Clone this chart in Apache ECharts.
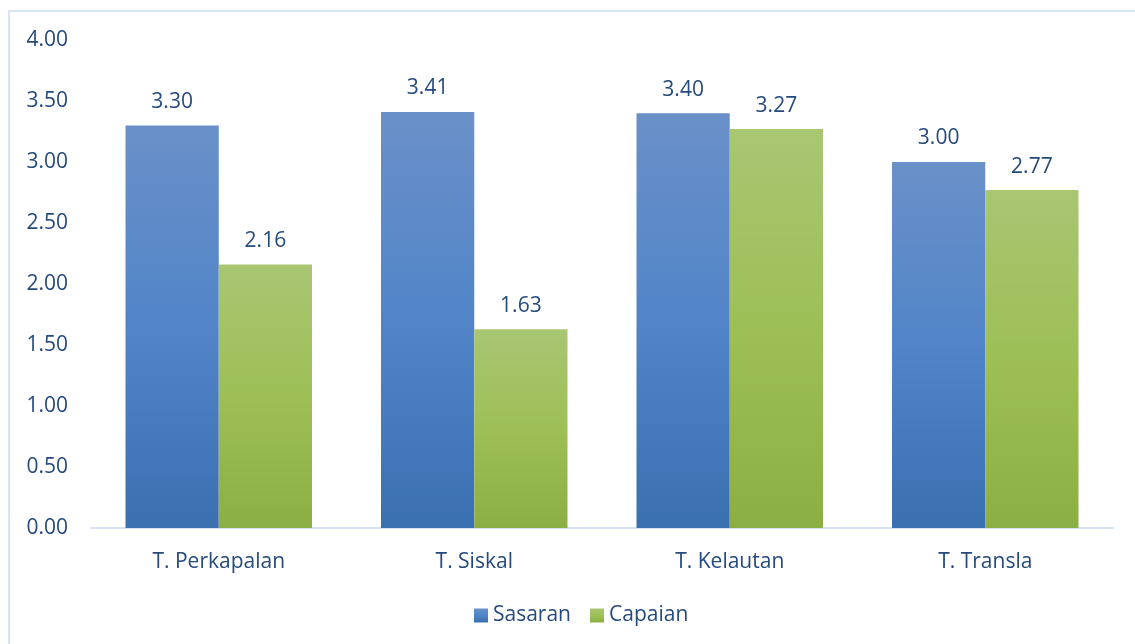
<!DOCTYPE html>
<html>
<head>
<meta charset="utf-8">
<script src="https://cdn.jsdelivr.net/npm/echarts@6/dist/echarts.min.js"></script>
<style>
html,body{margin:0;padding:0;background:#fff;}
#chart{width:1135px;height:644px;}
</style>
</head>
<body>
<div id="chart"></div>
<script>
const categories = ['T. Perkapalan', 'T. Siskal', 'T. Kelautan', 'T. Transla'];
const sasaran = [3.30, 3.41, 3.40, 3.00];
const capaian = [2.16, 1.63, 3.27, 2.77];
const seriesNames = ['Sasaran', 'Capaian'];

const textColor = '#254a7c';
const font = 'Open Sans';
const fs = 21;

function grad(top, mid, bottom) {
  return new echarts.graphic.LinearGradient(0, 0, 0, 1, [
    {offset: 0, color: top},
    {offset: 0.5, color: mid},
    {offset: 1, color: bottom}
  ]);
}
const blue = grad('#6a90c8', '#5185c8', '#3a6fb0');
const green = grad('#a9c672', '#9dbf56', '#8caf43');

const chart = echarts.init(document.getElementById('chart'));
chart.setOption({
  animation: false,
  textStyle: {fontFamily: font},
  graphic: [{
    type: 'rect',
    shape: {x: 9, y: 11, width: 1200, height: 700},
    style: {fill: 'none', stroke: '#dae4f4', lineWidth: 2},
    silent: true
  }],
  grid: {left: 91, right: 22, top: 40, bottom: 116},
  legend: {
    bottom: 13,
    left: 469,
    itemWidth: 14,
    itemHeight: 14,
    itemGap: 19,
    icon: 'rect',
    textStyle: {color: textColor, fontSize: fs, fontFamily: font, padding: [0, 0, 0, 0]},
    data: seriesNames
  },
  xAxis: {
    type: 'category',
    data: categories,
    axisLine: {lineStyle: {color: '#d6e1f2', width: 2}},
    axisTick: {show: false},
    axisLabel: {color: textColor, fontSize: fs, margin: 24, fontFamily: font}
  },
  yAxis: {
    type: 'value',
    min: 0,
    max: 4,
    interval: 0.5,
    axisLine: {show: false},
    axisTick: {show: false},
    splitLine: {show: false},
    axisLabel: {
      color: textColor, fontSize: fs, margin: 23, fontFamily: font,
      formatter: v => v.toFixed(2)
    }
  },
  series: [
    {
      name: seriesNames[0], type: 'bar', data: sasaran,
      barGap: '0%', barCategoryGap: '27%',
      itemStyle: {color: blue},
      label: {show: true, position: 'top', distance: 13, color: textColor, fontSize: fs, fontFamily: font,
        formatter: p => p.value.toFixed(2)}
    },
    {
      name: seriesNames[1], type: 'bar', data: capaian,
      barGap: '0%', barCategoryGap: '27%',
      itemStyle: {color: green},
      label: {show: true, position: 'top', distance: 13, color: textColor, fontSize: fs, fontFamily: font,
        formatter: p => p.value.toFixed(2)}
    }
  ]
});
</script>
</body>
</html>
